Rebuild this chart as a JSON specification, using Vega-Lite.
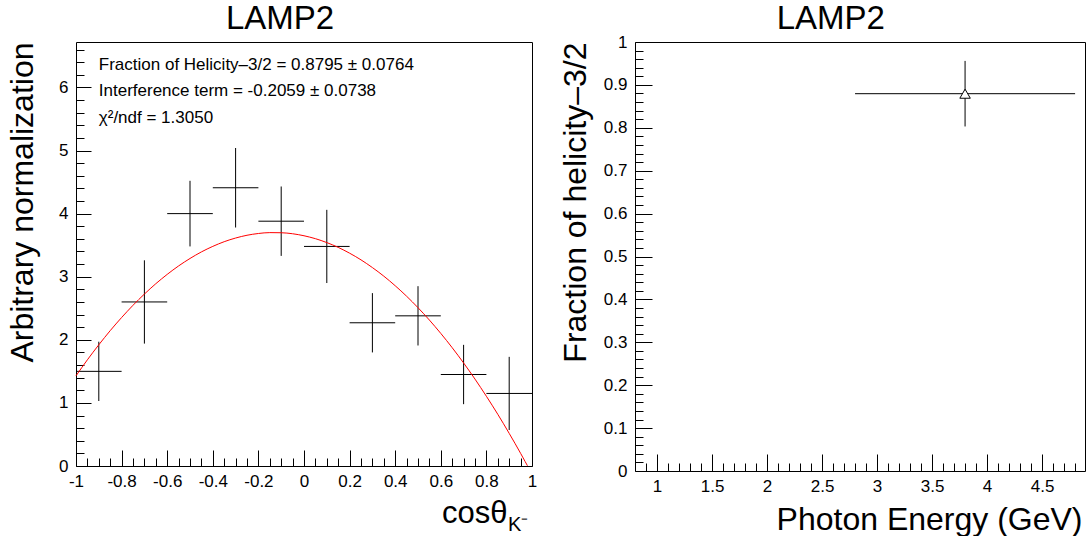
{
  "$schema": "https://vega.github.io/schema/vega-lite/v6.json",
  "background": "white",
  "padding": {"left": 5, "top": 2, "right": 0, "bottom": 0},
  "bounds": "flush",
  "spacing": 103,
  "config": {
    "font": "Liberation Sans",
    "view": {"stroke": "black", "strokeWidth": 1},
    "axis": {"grid": false, "labelColor": "black", "titleColor": "black", "tickColor": "black", "domainColor": "black", "labelFont": "Liberation Sans", "titleFont": "Liberation Sans", "titleFontWeight": "normal", "labelFontSize": 17, "titleFontSize": 32, "labelFlush": false, "labelOverlap": false, "labelBound": false, "tickWidth": 1}
  },
  "datasets": {
    "pts": [
      {"x": -0.9, "xlo": -1.0, "xhi": -0.8, "y": 1.50, "ylo": 1.03, "yhi": 1.97},
      {"x": -0.7, "xlo": -0.8, "xhi": -0.6, "y": 2.60, "ylo": 1.94, "yhi": 3.26},
      {"x": -0.5, "xlo": -0.6, "xhi": -0.4, "y": 4.00, "ylo": 3.48, "yhi": 4.52},
      {"x": -0.3, "xlo": -0.4, "xhi": -0.2, "y": 4.41, "ylo": 3.78, "yhi": 5.04},
      {"x": -0.1, "xlo": -0.2, "xhi": 0.0, "y": 3.88, "ylo": 3.33, "yhi": 4.43},
      {"x": 0.1, "xlo": 0.0, "xhi": 0.2, "y": 3.48, "ylo": 2.90, "yhi": 4.06},
      {"x": 0.3, "xlo": 0.2, "xhi": 0.4, "y": 2.27, "ylo": 1.80, "yhi": 2.74},
      {"x": 0.5, "xlo": 0.4, "xhi": 0.6, "y": 2.38, "ylo": 1.91, "yhi": 2.85},
      {"x": 0.7, "xlo": 0.6, "xhi": 0.8, "y": 1.45, "ylo": 0.98, "yhi": 1.92},
      {"x": 0.9, "xlo": 0.8, "xhi": 1.0, "y": 1.15, "ylo": 0.57, "yhi": 1.73}
    ],
    "curve": [
      {"x": -1, "y": 1.429}, {"x": -0.95, "y": 1.683}, {"x": -0.9, "y": 1.921}, {"x": -0.85, "y": 2.145},
      {"x": -0.8, "y": 2.353}, {"x": -0.75, "y": 2.547}, {"x": -0.7, "y": 2.725}, {"x": -0.65, "y": 2.889},
      {"x": -0.6, "y": 3.037}, {"x": -0.55, "y": 3.171}, {"x": -0.5, "y": 3.289}, {"x": -0.45, "y": 3.393},
      {"x": -0.4, "y": 3.481}, {"x": -0.35, "y": 3.555}, {"x": -0.3, "y": 3.613}, {"x": -0.25, "y": 3.657},
      {"x": -0.2, "y": 3.685}, {"x": -0.15, "y": 3.699}, {"x": -0.1, "y": 3.697}, {"x": -0.05, "y": 3.681},
      {"x": 0, "y": 3.649}, {"x": 0.05, "y": 3.603}, {"x": 0.1, "y": 3.541}, {"x": 0.15, "y": 3.465},
      {"x": 0.2, "y": 3.373}, {"x": 0.25, "y": 3.267}, {"x": 0.3, "y": 3.145}, {"x": 0.35, "y": 3.009},
      {"x": 0.4, "y": 2.857}, {"x": 0.45, "y": 2.691}, {"x": 0.5, "y": 2.509}, {"x": 0.55, "y": 2.313},
      {"x": 0.6, "y": 2.101}, {"x": 0.65, "y": 1.875}, {"x": 0.7, "y": 1.633}, {"x": 0.75, "y": 1.377},
      {"x": 0.8, "y": 1.105}, {"x": 0.85, "y": 0.819}, {"x": 0.9, "y": 0.517}, {"x": 0.95, "y": 0.201},
      {"x": 0.97, "y": 0.070}, {"x": 0.98, "y": 0.004}
    ],
    "notes": [
      {"x": -0.9, "y": 6.355, "label": "Fraction of Helicity–3/2 = 0.8795 ± 0.0764"},
      {"x": -0.9, "y": 5.94, "label": "Interference term = -0.2059 ± 0.0738"},
      {"x": -0.9, "y": 5.515, "label": "χ²/ndf = 1.3050"}
    ],
    "frac": [
      {"energy": 3.8, "elo": 2.8, "ehi": 4.8, "f": 0.8795, "flo": 0.8031, "fhi": 0.9559}
    ],
    "one": [{}]
  },
  "hconcat": [
    {
      "width": 456,
      "height": 424,
      "resolve": {"axis": {"x": "independent", "y": "independent"}},
      "layer": [
        {
          "data": {"name": "pts"},
          "mark": {"type": "rule", "color": "black", "strokeWidth": 1},
          "encoding": {
            "x": {"field": "xlo", "type": "quantitative", "scale": {"domain": [-1, 1], "nice": false, "zero": false},
              "axis": {"orient": "bottom", "title": "cosθ", "values": [-1, -0.8, -0.6, -0.4, -0.2, 0, 0.2, 0.4, 0.6, 0.8, 1], "ticks": false, "domain": false, "labelExpr": "'' + datum.value", "labelPadding": 7, "titleFontSize": 31, "titleAnchor": "end", "titleAlign": "right", "titleBaseline": "alphabetic", "titleX": 431, "titleY": 56}},
            "x2": {"field": "xhi"},
            "y": {"field": "y", "type": "quantitative", "scale": {"domain": [0, 6.72], "nice": false, "zero": false},
              "axis": {"orient": "left", "title": "Arbitrary normalization", "values": [0, 1, 2, 3, 4, 5, 6], "ticks": false, "domain": false, "labelExpr": "'' + datum.value", "labelPadding": 8, "titleAnchor": "end", "titleAlign": "right", "titleBaseline": "alphabetic", "titleX": -44, "titleY": 0}}
          }
        },
        {
          "data": {"name": "pts"},
          "mark": {"type": "rule", "color": "black", "strokeWidth": 1},
          "encoding": {
            "x": {"field": "x", "type": "quantitative", "scale": {"domain": [-1, 1], "nice": false, "zero": false}, "axis": null},
            "y": {"field": "ylo", "type": "quantitative", "scale": {"domain": [0, 6.72], "nice": false, "zero": false}, "axis": null},
            "y2": {"field": "yhi"}
          }
        },
        {
          "data": {"name": "curve"},
          "mark": {"type": "line", "color": "#ff0000", "strokeWidth": 1, "interpolate": "monotone"},
          "encoding": {
            "x": {"field": "x", "type": "quantitative", "scale": {"domain": [-1, 1], "nice": false, "zero": false}, "axis": null},
            "y": {"field": "y", "type": "quantitative", "scale": {"domain": [0, 6.72], "nice": false, "zero": false}, "axis": null}
          }
        },
        {
          "data": {"name": "notes"},
          "mark": {"type": "text", "align": "left", "baseline": "middle", "fontSize": 17, "color": "black", "font": "Liberation Sans"},
          "encoding": {
            "x": {"field": "x", "type": "quantitative", "scale": {"domain": [-1, 1], "nice": false, "zero": false}, "axis": null},
            "y": {"field": "y", "type": "quantitative", "scale": {"domain": [0, 6.72], "nice": false, "zero": false}, "axis": null},
            "text": {"field": "label"}
          }
        },
        {
          "data": {"name": "pts"},
          "mark": {"type": "point", "opacity": 0},
          "encoding": {
            "x": {"field": "x", "type": "quantitative", "scale": {"domain": [-1, 1], "nice": false, "zero": false},
              "axis": {"orient": "bottom", "title": null, "labels": false, "domain": false, "values": [-1, -0.8, -0.6, -0.4, -0.2, 0, 0.2, 0.4, 0.6, 0.8, 1], "tickSize": 16, "offset": -16}},
            "y": {"field": "y", "type": "quantitative", "scale": {"domain": [0, 6.72], "nice": false, "zero": false},
              "axis": {"orient": "left", "title": null, "labels": false, "domain": false, "values": [0, 1, 2, 3, 4, 5, 6], "tickSize": 15, "offset": -15}}
          }
        },
        {
          "data": {"name": "pts"},
          "mark": {"type": "point", "opacity": 0},
          "encoding": {
            "x": {"field": "x", "type": "quantitative", "scale": {"domain": [-1, 1], "nice": false, "zero": false},
              "axis": {"orient": "bottom", "title": null, "labels": false, "domain": false, "values": [-0.95, -0.9, -0.85, -0.75, -0.7, -0.65, -0.55, -0.5, -0.45, -0.35, -0.3, -0.25, -0.15, -0.1, -0.05, 0.05, 0.1, 0.15, 0.25, 0.3, 0.35, 0.45, 0.5, 0.55, 0.65, 0.7, 0.75, 0.85, 0.9, 0.95], "tickSize": 8, "offset": -8}},
            "y": {"field": "y", "type": "quantitative", "scale": {"domain": [0, 6.72], "nice": false, "zero": false},
              "axis": {"orient": "left", "title": null, "labels": false, "domain": false, "values": [0.2, 0.4, 0.6, 0.8, 1.2, 1.4, 1.6, 1.8, 2.2, 2.4, 2.6, 2.8, 3.2, 3.4, 3.6, 3.8, 4.2, 4.4, 4.6, 4.8, 5.2, 5.4, 5.6, 5.8, 6.2, 6.4, 6.6], "tickSize": 8, "offset": -8}}
          }
        },
        {
          "data": {"name": "one"},
          "mark": {"type": "text", "text": "K⁻", "clip": false, "align": "left", "baseline": "alphabetic", "fontSize": 20, "color": "black", "font": "Liberation Sans", "dx": -24, "dy": 65},
          "encoding": {
            "x": {"datum": 1, "type": "quantitative", "scale": {"domain": [-1, 1], "nice": false, "zero": false}, "axis": null},
            "y": {"datum": 0, "type": "quantitative", "scale": {"domain": [0, 6.72], "nice": false, "zero": false}, "axis": null}
          }
        },
        {
          "data": {"name": "one"},
          "mark": {"type": "text", "text": "LAMP2", "clip": false, "align": "center", "baseline": "alphabetic", "fontSize": 33, "color": "black", "font": "Liberation Sans", "dy": -13},
          "encoding": {
            "x": {"datum": -0.105, "type": "quantitative", "scale": {"domain": [-1, 1], "nice": false, "zero": false}, "axis": null},
            "y": {"datum": 6.72, "type": "quantitative", "scale": {"domain": [0, 6.72], "nice": false, "zero": false}, "axis": null}
          }
        }
      ]
    },
    {
      "width": 450,
      "height": 429,
      "resolve": {"axis": {"x": "independent", "y": "independent"}},
      "layer": [
        {
          "data": {"name": "frac"},
          "mark": {"type": "rule", "color": "black", "strokeWidth": 1},
          "encoding": {
            "x": {"field": "elo", "type": "quantitative", "scale": {"domain": [0.8, 4.89], "nice": false, "zero": false},
              "axis": {"orient": "bottom", "title": "Photon Energy (GeV)", "values": [1, 1.5, 2, 2.5, 3, 3.5, 4, 4.5], "ticks": false, "domain": false, "labelExpr": "'' + datum.value", "labelPadding": 7, "titleAnchor": "end", "titleAlign": "right", "titleBaseline": "alphabetic", "titleX": 447, "titleY": 58}},
            "x2": {"field": "ehi"},
            "y": {"field": "f", "type": "quantitative", "scale": {"domain": [0, 1], "nice": false, "zero": false},
              "axis": {"orient": "left", "title": "Fraction of helicity–3/2", "values": [0, 0.1, 0.2, 0.3, 0.4, 0.5, 0.6, 0.7, 0.8, 0.9, 1], "ticks": false, "domain": false, "labelExpr": "'' + datum.value", "labelPadding": 8, "titleAnchor": "end", "titleAlign": "right", "titleBaseline": "alphabetic", "titleX": -50, "titleY": 0}}
          }
        },
        {
          "data": {"name": "frac"},
          "mark": {"type": "rule", "color": "black", "strokeWidth": 1},
          "encoding": {
            "x": {"field": "energy", "type": "quantitative", "scale": {"domain": [0.8, 4.89], "nice": false, "zero": false}, "axis": null},
            "y": {"field": "flo", "type": "quantitative", "scale": {"domain": [0, 1], "nice": false, "zero": false}, "axis": null},
            "y2": {"field": "fhi"}
          }
        },
        {
          "data": {"name": "frac"},
          "mark": {"type": "point", "shape": "triangle-up", "size": 110, "filled": true, "fill": "white", "stroke": "black", "strokeWidth": 1, "opacity": 1},
          "encoding": {
            "x": {"field": "energy", "type": "quantitative", "scale": {"domain": [0.8, 4.89], "nice": false, "zero": false}, "axis": null},
            "y": {"field": "f", "type": "quantitative", "scale": {"domain": [0, 1], "nice": false, "zero": false}, "axis": null}
          }
        },
        {
          "data": {"name": "frac"},
          "mark": {"type": "point", "opacity": 0},
          "encoding": {
            "x": {"field": "energy", "type": "quantitative", "scale": {"domain": [0.8, 4.89], "nice": false, "zero": false},
              "axis": {"orient": "bottom", "title": null, "labels": false, "domain": false, "values": [1, 1.5, 2, 2.5, 3, 3.5, 4, 4.5], "tickSize": 17, "offset": -17}},
            "y": {"field": "f", "type": "quantitative", "scale": {"domain": [0, 1], "nice": false, "zero": false},
              "axis": {"orient": "left", "title": null, "labels": false, "domain": false, "values": [0, 0.1, 0.2, 0.3, 0.4, 0.5, 0.6, 0.7, 0.8, 0.9, 1], "tickSize": 17, "offset": -17}}
          }
        },
        {
          "data": {"name": "frac"},
          "mark": {"type": "point", "opacity": 0},
          "encoding": {
            "x": {"field": "energy", "type": "quantitative", "scale": {"domain": [0.8, 4.89], "nice": false, "zero": false},
              "axis": {"orient": "bottom", "title": null, "labels": false, "domain": false, "values": [0.9, 1.1, 1.2, 1.3, 1.4, 1.6, 1.7, 1.8, 1.9, 2.1, 2.2, 2.3, 2.4, 2.6, 2.7, 2.8, 2.9, 3.1, 3.2, 3.3, 3.4, 3.6, 3.7, 3.8, 3.9, 4.1, 4.2, 4.3, 4.4, 4.6, 4.7, 4.8], "tickSize": 8, "offset": -8}},
            "y": {"field": "f", "type": "quantitative", "scale": {"domain": [0, 1], "nice": false, "zero": false},
              "axis": {"orient": "left", "title": null, "labels": false, "domain": false, "values": [0.02, 0.04, 0.06, 0.08, 0.12, 0.14, 0.16, 0.18, 0.22, 0.24, 0.26, 0.28, 0.32, 0.34, 0.36, 0.38, 0.42, 0.44, 0.46, 0.48, 0.52, 0.54, 0.56, 0.58, 0.62, 0.64, 0.66, 0.68, 0.72, 0.74, 0.76, 0.78, 0.82, 0.84, 0.86, 0.88, 0.92, 0.94, 0.96, 0.98], "tickSize": 8, "offset": -8}}
          }
        },
        {
          "data": {"name": "one"},
          "mark": {"type": "text", "text": "LAMP2", "clip": false, "align": "center", "baseline": "alphabetic", "fontSize": 33, "color": "black", "font": "Liberation Sans", "dy": -13},
          "encoding": {
            "x": {"datum": 2.58, "type": "quantitative", "scale": {"domain": [0.8, 4.89], "nice": false, "zero": false}, "axis": null},
            "y": {"datum": 1, "type": "quantitative", "scale": {"domain": [0, 1], "nice": false, "zero": false}, "axis": null}
          }
        }
      ]
    }
  ]
}
